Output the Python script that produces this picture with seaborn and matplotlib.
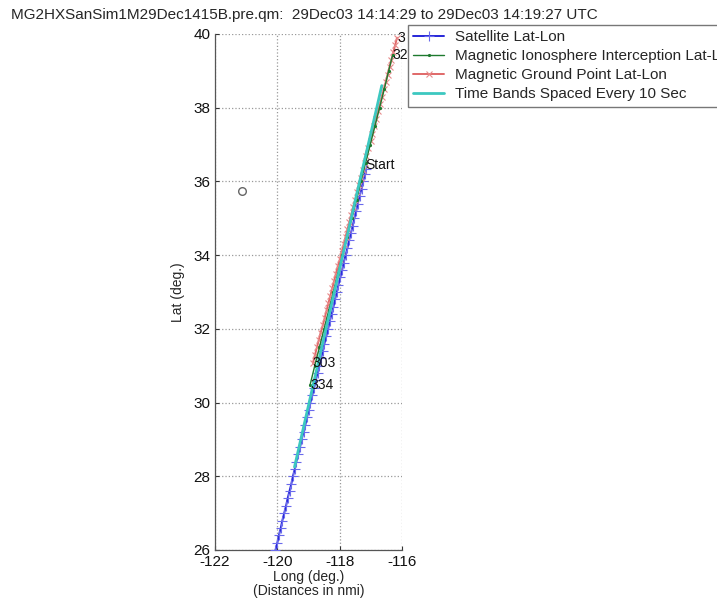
import numpy as np
import pandas as pd
import seaborn as sns
import matplotlib
matplotlib.use("Agg")
import matplotlib.pyplot as plt

# ---------------- data ----------------
sat_lat = [26.0, 26.2, 26.4, 26.6, 26.8, 27.0, 27.2, 27.4, 27.6, 27.8,
           28.0, 28.2, 28.4, 28.6, 28.8, 29.0, 29.2, 29.4, 29.6, 29.8,
           30.0, 30.2, 30.4, 30.6, 30.8, 31.0, 31.2, 31.4, 31.6, 31.8,
           32.0, 32.2, 32.4, 32.6, 32.8, 33.0, 33.2, 33.4, 33.6, 33.8,
           34.0, 34.2, 34.4, 34.6, 34.8, 35.0, 35.2, 35.4, 35.6, 35.8,
           36.0, 36.2, 36.35]
sat_lon = [-120.06, -120.00, -119.95, -119.89, -119.84, -119.78, -119.72, -119.67, -119.61, -119.55,
           -119.50, -119.44, -119.39, -119.33, -119.27, -119.22, -119.16, -119.10, -119.05, -118.99,
           -118.94, -118.88, -118.82, -118.77, -118.71, -118.65, -118.60, -118.54, -118.49, -118.43,
           -118.37, -118.32, -118.26, -118.20, -118.15, -118.09, -118.04, -117.98, -117.92, -117.87,
           -117.81, -117.75, -117.70, -117.64, -117.58, -117.53, -117.47, -117.42, -117.36, -117.30,
           -117.25, -117.19, -117.15]

iono_lat = [30.48, 31.0, 31.5, 32.0, 32.5, 33.0, 33.5, 34.0, 34.5, 35.0,
            35.5, 36.0, 36.5, 37.0, 37.5, 38.0, 38.5, 39.0, 39.43]
iono_lon = [-118.95, -118.80, -118.65, -118.50, -118.35, -118.20, -118.06, -117.91, -117.76, -117.61,
            -117.46, -117.32, -117.17, -117.02, -116.87, -116.72, -116.57, -116.43, -116.30]

grd_lat = [31.07, 31.3, 31.5, 31.7, 31.9, 32.1, 32.3, 32.5, 32.7, 32.9,
           33.1, 33.3, 33.5, 33.7, 33.9, 34.1, 34.3, 34.5, 34.7, 34.9,
           35.1, 35.3, 35.5, 35.7, 35.9, 36.1, 36.3, 36.5, 36.7, 36.9,
           37.1, 37.3, 37.5, 37.7, 37.9, 38.1, 38.3, 38.5, 38.7, 38.9,
           39.1, 39.3, 39.5, 39.7, 39.9]
grd_lon = [-118.86, -118.79, -118.73, -118.67, -118.61, -118.54, -118.48, -118.42, -118.36, -118.30,
           -118.24, -118.18, -118.12, -118.06, -117.99, -117.93, -117.87, -117.81, -117.75, -117.69,
           -117.63, -117.57, -117.50, -117.44, -117.38, -117.32, -117.26, -117.20, -117.14, -117.08,
           -117.01, -116.95, -116.89, -116.83, -116.77, -116.71, -116.65, -116.59, -116.52, -116.46,
           -116.40, -116.34, -116.28, -116.22, -116.16]

band_lat = [28.25, 30.0, 32.0, 34.0, 36.0, 38.0, 38.6]
band_lon = [-119.45, -118.98, -118.44, -117.90, -117.36, -116.81, -116.65]

site_lon = [-121.13]
site_lat = [35.74]

annot_text = ["Start", "303", "334", "3", "32"]
annot_lon = [-117.17, -118.86, -118.95, -116.16, -116.30]
annot_lat = [36.45, 31.07, 30.48, 39.88, 39.43]

x_ticks = [-122, -120, -118, -116]
y_ticks = [26, 28, 30, 32, 34, 36, 38, 40]

title = "MG2HXSanSim1M29Dec1415B.pre.qm:  29Dec03 14:14:29 to 29Dec03 14:19:27 UTC"
legend_labels = ["Satellite Lat-Lon", "Magnetic Ionosphere Interception Lat-Lon",
                 "Magnetic Ground Point Lat-Lon", "Time Bands Spaced Every 10 Sec"]

# ---------------- plot ----------------
sns.set_style("white")
plt.rcParams['font.family'] = ['Liberation Sans', 'DejaVu Sans']

fig = plt.figure(figsize=(7.17, 6.08), dpi=100)
ax = fig.add_axes([0.2999, 0.0954, 0.2608, 0.8487])

c_sat = "#2626d8"
c_iono = "#1e7a2e"
c_grd = "#e06868"
c_band = "#3cc8c0"

df_sat = pd.DataFrame({"lon": sat_lon, "lat": sat_lat})
df_iono = pd.DataFrame({"lon": iono_lon, "lat": iono_lat})
df_grd = pd.DataFrame({"lon": grd_lon, "lat": grd_lat})
df_band = pd.DataFrame({"lon": band_lon, "lat": band_lat})

sns.lineplot(data=df_sat, x="lon", y="lat", sort=False, estimator=None, ax=ax,
             color=c_sat, marker="+", markersize=7, markeredgewidth=0.8,
             markeredgecolor="#6a6aec", lw=1.4, label=legend_labels[0], zorder=3)
sns.lineplot(data=df_grd, x="lon", y="lat", sort=False, estimator=None, ax=ax,
             color=c_grd, marker="x", markersize=5, markeredgewidth=0.8,
             markeredgecolor="#e88a8a", lw=1.4, label=legend_labels[2], zorder=4)
sns.lineplot(data=df_iono, x="lon", y="lat", sort=False, estimator=None, ax=ax,
             color=c_iono, marker=".", markersize=3, markeredgecolor=c_iono,
             lw=1.0, label=legend_labels[1], zorder=5)
sns.lineplot(data=df_band, x="lon", y="lat", sort=False, estimator=None, ax=ax,
             color=c_band, lw=2.0, label=legend_labels[3], zorder=6)
ax.plot(site_lon, site_lat, marker="o", ms=5.5, mfc="none", mec="#666666", ls="none")

for t, xx, yy in zip(annot_text, annot_lon, annot_lat):
    ax.text(xx, yy, t, fontsize=10, color="#111111", va="center", zorder=7)

ax.set_xlim(-122, -116)
ax.set_ylim(26, 40)
ax.set_xticks(x_ticks)
ax.set_yticks(y_ticks)
ax.set_xticklabels([str(v) for v in x_ticks])
ax.set_yticklabels([str(v) for v in y_ticks])
ax.tick_params(direction="in", length=3, labelsize=11, colors="#333333",
               labelcolor="#111111", top=False, right=False, left=True, bottom=True)
ax.tick_params(axis="x", pad=3.5)
ax.grid(True, ls=":", color="#999999", lw=0.9)
for s in ["top", "right"]:
    ax.spines[s].set_visible(False)
for s in ["left", "bottom"]:
    ax.spines[s].set_color("#555555")
    ax.spines[s].set_linewidth(0.9)

ax.set_xlabel("Long (deg.)\n(Distances in nmi)", fontsize=10, linespacing=1.0, labelpad=1)
ax.set_ylabel("Lat (deg.)", fontsize=10, labelpad=6)

fig.text(0.424, 0.976, title, ha="center", va="center", fontsize=11)

handles, labels = ax.get_legend_handles_labels()
order = [labels.index(l) for l in legend_labels]
leg = fig.legend([handles[i] for i in order], [labels[i] for i in order],
                 loc="upper left", bbox_to_anchor=(0.569, 0.959), fontsize=11,
                 frameon=True, fancybox=False, framealpha=1, edgecolor="#777777",
                 borderpad=0.35, labelspacing=0.33, handlelength=2.0, handletextpad=0.7,
                 borderaxespad=0)
leg.get_frame().set_linewidth(1.0)
if ax.legend_:
    ax.legend_.remove()

fig.savefig("out.png", dpi=100)
